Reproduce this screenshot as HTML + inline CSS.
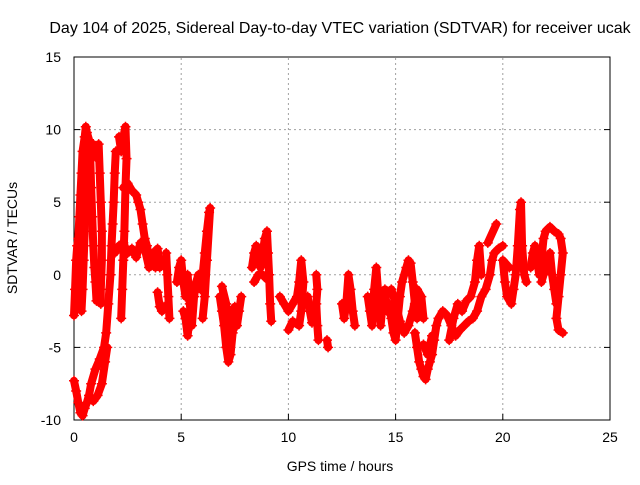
<!DOCTYPE html>
<html><head><meta charset="utf-8"><style>
body{margin:0;background:#fff;}
svg text{font-family:"Liberation Sans",sans-serif;font-size:14px;fill:#000;}
</style></head><body>
<svg width="640" height="480">
<rect width="640" height="480" fill="#fff"/>
<text x="340" y="33" text-anchor="middle" style="font-size:16px">Day 104 of 2025, Sidereal Day-to-day VTEC variation (SDTVAR) for receiver ucak</text>
<g id="grid"></g>
<g id="axes"></g>
<g id="marks"></g>
<text x="340" y="471" text-anchor="middle">GPS time / hours</text>
<text transform="translate(17,238) rotate(-90)" text-anchor="middle">SDTVAR / TECUs</text>
</svg>
<script>
const xTicks=[0,5,10,15,20,25];
const yTicks=[-10,-5,0,5,10,15];
const tracks=[
[[0,-7.3],[0.1,-8],[0.2,-8.8],[0.3,-9.5],[0.4,-9.7],[0.5,-9.2],[0.6,-8.8],[0.7,-8.3],[0.8,-7.5],[1.0,-6.5],[1.2,-5.8],[1.4,-5],[1.5,-4],[1.6,-2],[1.7,0],[1.75,2],[1.8,3.5],[1.85,5],[1.9,7],[1.95,8.5]],
[[0.9,-8.7],[1.1,-8.3],[1.3,-7.5],[1.45,-6],[1.55,-5]],
[[0,-2.8],[0.05,-1],[0.1,1],[0.15,2],[0.2,2.5],[0.25,4],[0.3,5.5],[0.35,7],[0.4,8.5],[0.5,9.5],[0.55,10.2],[0.6,9.8],[0.7,9.3],[0.8,8.8],[0.9,9.0],[1.0,8.5],[1.1,8]],
[[0.55,9],[0.55,6],[0.5,3],[0.45,1],[0.4,-1],[0.35,-2.5]],
[[0.75,8.5],[0.8,6],[0.85,4],[0.9,2],[0.95,0.5],[1.0,-0.5],[1.05,-1.8]],
[[1.15,9],[1.2,7],[1.25,5],[1.3,3],[1.3,1],[1.25,-1],[1.25,-2]],
[[2.1,9.5],[2.2,8.5],[2.3,9.5],[2.4,10.2],[2.45,8],[2.4,6],[2.35,3],[2.3,1],[2.25,-1],[2.2,-3]],
[[2.3,6],[2.5,6.3],[2.7,5.8],[2.9,5.5],[3.0,5],[3.1,4.5],[3.2,3.5],[3.3,2.5],[3.4,2],[3.5,1.2],[3.6,1],[3.8,0.5]],
[[1.9,1.5],[2.1,2.0],[2.3,2.2],[2.5,1.5],[2.7,1.8],[2.9,1.2],[3.1,2.2],[3.3,1.8],[3.5,0.5],[3.7,1.5],[3.9,1.8],[4.0,0.5]],
[[3.9,-1.2],[4.0,-2.2],[4.1,-2.5],[4.2,-2.2]],
[[4.3,1.5],[4.35,0],[4.4,-1.5],[4.45,-3]],
[[4.8,-0.5],[4.9,0.5],[5.0,1],[5.1,-0.5],[5.2,-1.5],[5.3,0],[5.4,-2],[5.5,-3.5],[5.6,-1.5],[5.7,-0.5],[5.8,0]],
[[5.1,-2.5],[5.2,-3.0],[5.3,-4.2],[5.4,-2.8]],
[[5.9,-1],[6.0,0],[6.1,1.5],[6.2,3],[6.3,4.3],[6.35,4.6],[6.2,1],[6.1,-1.5],[6.0,-3]],
[[6.8,-1.5],[6.9,-2.5],[7.0,-3.5],[7.1,-5],[7.2,-6],[7.3,-5.5],[7.4,-4],[7.5,-3],[7.6,-3.5],[7.7,-2.5],[7.8,-1.5]],
[[6.9,-0.8],[7.1,-2],[7.2,-3.8],[7.5,-2.2]],
[[8.3,0.5],[8.4,1.5],[8.5,2],[8.6,1.2],[8.7,0.5],[8.8,1.5],[8.9,2.5],[9.0,3.0],[9.05,1.5],[9.1,0],[9.15,-2],[9.2,-3.2]],
[[8.4,-0.5],[8.6,0],[8.8,0],[9.0,-0.3]],
[[9.6,-1.5],[9.8,-2],[10.0,-2.5],[10.2,-2],[10.4,-1.5],[10.5,-0.5],[10.6,1],[10.7,-0.5],[10.6,-2.5],[10.5,-3.5],[10.2,-3.2],[10.0,-3.8]],
[[11.3,0],[11.35,-1],[11.3,-2],[11.35,-3.5],[11.4,-4.5]],
[[10.9,-1.5],[11.0,-2.5],[11.1,-3.3]],
[[11.8,-4.5],[11.85,-5]],
[[12.5,-2],[12.6,-3],[12.7,-2],[12.8,0],[12.9,-1],[13.0,-2.5],[13.1,-3.5]],
[[13.7,-1.5],[13.8,-2.5],[13.9,-3.5],[14.0,-1],[14.1,0.5],[14.2,-1.5],[14.3,-3.5],[14.4,-2],[14.5,-1],[14.6,-2.5]],
[[14.7,-2],[14.8,-3],[14.9,-4],[15.0,-4.5],[15.1,-3],[15.2,-1.5],[15.3,-0.5],[15.5,0.5],[15.6,1.0],[15.7,0.8],[15.8,-0.5],[15.9,-2],[16.0,-3]],
[[14.8,-1],[15.0,-2],[15.2,-3.2],[15.4,-4],[15.6,-3.5],[15.8,-2.5],[16.0,-1],[16.2,-1.5],[16.3,-3]],
[[15.9,-4],[16.0,-5],[16.1,-6],[16.2,-6.5],[16.3,-7],[16.4,-7.2],[16.5,-6.5],[16.6,-6],[16.7,-5.5],[16.8,-4.5],[16.9,-3.5],[17.0,-3]],
[[16.3,-4.8],[16.5,-5.5],[16.7,-4.2]],
[[17.0,-3],[17.2,-2.5],[17.4,-2.8],[17.6,-3.5],[17.8,-4.2],[18.0,-3.8],[18.2,-3.5],[18.4,-3.2],[18.6,-3],[18.8,-2.5],[19.0,-1.5],[19.2,-1],[19.4,0],[19.5,1],[19.6,1.5],[19.8,1.8],[20.0,2.0]],
[[17.5,-4.5],[17.7,-3],[17.9,-2],[18.1,-2.5],[18.3,-1.8],[18.5,-1.5],[18.7,-0.5],[18.8,1],[18.9,2],[19.0,0]],
[[20.3,0.5],[20.0,1],[20.1,-0.5],[20.2,-1.5],[20.4,-2],[20.5,-1],[20.6,0],[20.7,2],[20.8,4.5],[20.85,5],[20.9,2],[21.0,0],[21.1,-0.5]],
[[21.3,0.5],[21.4,1.5],[21.5,2],[21.6,1],[21.7,0],[21.8,1],[21.9,2.5],[22.0,3],[22.2,3.3],[22.4,3],[22.6,2.8],[22.7,2.5],[22.8,1.5],[22.7,0],[22.6,-1.5],[22.5,-3],[22.6,-3.8],[22.8,-4]],
[[21.8,-0.5],[22.0,0.5],[22.2,1.5],[22.3,0],[22.4,-1],[22.5,-2]],
[[19.7,3.5],[19.3,2.2]]
];
const X0=74,X1=610,Y0=420,Y1=57;
function sx(t){return X0+(t-0)/(25-0)*(X1-X0);}
function sy(v){return Y0-(v+10)/(15+10)*(Y0-Y1);}
const NS='http://www.w3.org/2000/svg';
function mk(tag,attrs,parent){const e=document.createElementNS(NS,tag);for(const k in attrs)e.setAttribute(k,attrs[k]);parent.appendChild(e);return e;}
const grid=document.getElementById('grid'),axes=document.getElementById('axes'),marks=document.getElementById('marks');
xTicks.forEach(t=>{
  if(t>0&&t<25){const l=mk('line',{x1:sx(t),x2:sx(t),y1:Y0,y2:Y1,stroke:'#a0a0a0','stroke-dasharray':'2,3'},grid);
  
  }
  const tk=mk('line',{x1:sx(t),x2:sx(t),y1:Y0,y2:Y0-6,stroke:'#000'},axes);
  
  
  const tx=mk('text',{x:sx(t),y:Y0+22,'text-anchor':'middle'},axes);tx.textContent=t;
  
  
});
yTicks.forEach(v=>{
  if(v>-10&&v<15){const l=mk('line',{x1:X0,x2:X1,y1:sy(v),y2:sy(v),stroke:'#a0a0a0','stroke-dasharray':'2,3'},grid);
  
  }
  const tk=mk('line',{x1:X0,x2:X0+6,y1:sy(v),y2:sy(v),stroke:'#000'},axes);
  
  
  const tk2=mk('line',{x1:X1,x2:X1-6,y1:sy(v),y2:sy(v),stroke:'#000'},axes);
  
  
  const tx=mk('text',{x:X0-13,y:sy(v)+5,'text-anchor':'end'},axes);tx.textContent=v;
  
  
});
const frame=mk('rect',{x:X0,y:Y1,width:X1-X0,height:Y0-Y1,fill:'none',stroke:'#000'},axes);


tracks.forEach(tr=>{
  const pl=mk('polyline',{points:tr.map(p=>sx(p[0])+','+sy(p[1])).join(' '),fill:'none',stroke:'#f00','stroke-width':8,'stroke-linejoin':'round','stroke-linecap':'round'},marks);
  
  
  tr.forEach(p=>{
    const x=sx(p[0]),y=sy(p[1]);
    const m=mk('path',{d:`M${x-5},${y}H${x+5}M${x},${y-5}V${y+5}`,stroke:'#f00','stroke-width':1.5},marks);
    
    
  });
});
</script>
</body></html>
